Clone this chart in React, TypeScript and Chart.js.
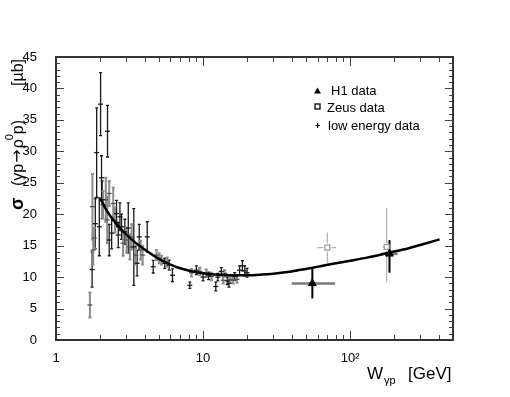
import React, { useEffect, useRef } from 'react';
import { Chart, registerables } from 'chart.js';

Chart.register(...registerables);

// ---- data ----
// low energy data, black error bars
const lowBlackW = [2.01, 1.89, 2.24, 2.04, 1.76, 1.85, 1.97, 2.06, 2.30, 2.58, 2.65, 2.79, 3.10, 3.38, 3.56, 4.17, 4.58, 5.49, 5.88, 6.19, 8.12, 9.0, 9.99, 10.9, 12.2, 12.6, 13.3, 14.6, 15.0, 16.4, 17.7, 18.5, 19.2, 19.9, 2.39, 2.72, 2.94, 3.68];
const lowBlackS = [37.5, 29.8, 33.2, 25.8, 11.2, 18.5, 18.0, 22.3, 15.9, 20.1, 16.7, 18.0, 17.8, 14.8, 12.2, 16.4, 11.65, 12.2, 11.9, 10.3, 8.7, 11.1, 10.0, 10.2, 8.5, 10.0, 10.9, 9.4, 9.0, 10.1, 11.1, 11.8, 11.0, 10.7, 17.0, 19.6, 17.2, 16.4];
const lowBlackE = [5.0, 7.1, 4.1, 3.5, 2.8, 4.0, 4.6, 3.0, 2.5, 2.1, 2.0, 2.0, 4.0, 6.1, 2.0, 2.4, 1.0, 0.8, 0.8, 1.0, 0.5, 0.7, 0.6, 0.6, 0.7, 0.6, 0.6, 0.6, 0.6, 0.6, 0.7, 0.8, 0.8, 0.7, 2.5, 2.2, 2.0, 2.0];
// low energy data, grey error bars
const lowGreyW = [1.70, 1.79, 1.82, 1.77, 2.09, 2.18, 2.23, 2.30, 2.45, 2.52, 2.86, 3.02, 3.18, 3.27, 3.49, 3.76, 3.88, 4.82, 5.03, 5.21, 5.69, 8.34, 9.5, 10.5, 11.4, 13.7, 14.0, 15.3, 16.0, 17.0];
const lowGreyS = [5.56, 14.3, 16.2, 21.2, 21.5, 22.3, 19.1, 23.3, 21.7, 19.1, 15.4, 15.9, 14.8, 16.4, 13.5, 14.3, 13.5, 13.5, 13.0, 12.7, 12.4, 10.7, 10.9, 10.6, 10.1, 9.5, 10.6, 9.65, 9.5, 9.65];
const lowGreyE = [2.0, 2.3, 1.6, 5.2, 2.2, 3.5, 3.7, 2.0, 2.5, 2.0, 2.0, 2.0, 2.0, 2.0, 1.5, 1.5, 1.5, 0.8, 0.8, 0.7, 0.7, 0.6, 0.6, 0.6, 0.6, 0.5, 0.5, 0.5, 0.5, 0.5];
// H1 data
const h1W = [55.3, 185];
const h1S = [9.0, 13.7];
const h1ErrLo = [2.4, 3.0];
const h1ErrHi = [2.55, 2.2];
const h1WLo = [40, 162];
const h1WHi = [79, 210];
// Zeus data
const zeusW = [69.9, 177];
const zeusS = [14.7, 14.8];
const zeusErrLo = [2.4, 5.6];
const zeusErrHi = [2.4, 6.2];
const zeusWLo = [60, 170];
const zeusWHi = [80, 186];
// fitted curve
const curveW = [2.0, 2.2, 2.45, 2.7, 3.0, 3.5, 4.0, 5.0, 6.0, 7.0, 8.5, 10, 12, 15, 20, 25, 30, 40, 50, 65, 80, 100, 130, 185, 250, 320, 405];
const curveS = [22.5, 20.7, 19.1, 17.9, 16.8, 15.4, 14.4, 12.9, 12.0, 11.4, 10.9, 10.6, 10.4, 10.3, 10.3, 10.4, 10.55, 10.9, 11.3, 11.8, 12.2, 12.6, 13.1, 13.9, 14.6, 15.3, 16.0];
// ticks
const xMajorValues = [1, 10, 100];
const xMajorLabels = ['1', '10', '10\u00B2'];
const xMinorValues = [2, 3, 4, 5, 6, 7, 8, 9, 20, 30, 40, 50, 60, 70, 80, 90, 200, 300, 400, 500];

const FONT = '"Liberation Sans", Arial, Helvetica, sans-serif';

const errorBarPlugin = {
  id: 'errorBars',
  beforeDatasetsDraw(chart: any) {
    const ctx = chart.ctx;
    const xs = chart.scales.x;
    const ys = chart.scales.y;
    const area = chart.chartArea;
    ctx.save();
    ctx.beginPath();
    ctx.rect(area.left, area.top, area.right - area.left, area.bottom - area.top);
    ctx.clip();
    chart.data.datasets.forEach((ds: any) => {
      const eb = ds.errBars;
      if (!eb) return;
      ds.data.forEach((p: any, i: number) => {
        const px = xs.getPixelForValue(p.x);
        const py = ys.getPixelForValue(p.y);
        if (eb.xlo) {
          const x1 = xs.getPixelForValue(eb.xlo[i]);
          const x2 = xs.getPixelForValue(eb.xhi[i]);
          ctx.strokeStyle = eb.xColor;
          ctx.lineWidth = eb.xWidth;
          ctx.beginPath();
          if (eb.gap) {
            ctx.moveTo(x1, py); ctx.lineTo(px - eb.gap, py);
            ctx.moveTo(px + eb.gap, py); ctx.lineTo(x2, py);
          } else {
            ctx.moveTo(x1, py); ctx.lineTo(x2, py);
          }
          ctx.stroke();
        }
        const y1 = ys.getPixelForValue(p.y + eb.hi[i]);
        const y2 = ys.getPixelForValue(p.y - eb.lo[i]);
        ctx.strokeStyle = eb.color;
        ctx.lineWidth = eb.width;
        ctx.beginPath();
        if (eb.gap) {
          ctx.moveTo(px, y1); ctx.lineTo(px, py - eb.gap);
          ctx.moveTo(px, py + eb.gap); ctx.lineTo(px, y2);
        } else {
          ctx.moveTo(px, y1); ctx.lineTo(px, y2);
        }
        if (eb.cap) {
          ctx.moveTo(px - eb.cap, y1); ctx.lineTo(px + eb.cap, y1);
          ctx.moveTo(px - eb.cap, y2); ctx.lineTo(px + eb.cap, y2);
        }
        ctx.stroke();
      });
    });
    ctx.restore();
  },
};

const framePlugin = {
  id: 'frameAndText',
  afterDraw(chart: any) {
    const ctx = chart.ctx;
    const xs = chart.scales.x;
    const ys = chart.scales.y;
    const a = chart.chartArea;
    ctx.save();
    // ticks
    ctx.strokeStyle = '#444';
    ctx.lineWidth = 1;
    ctx.beginPath();
    for (let v = 0; v <= 45; v++) {
      const y = Math.round(ys.getPixelForValue(v)) + 0.5;
      const len = v % 5 === 0 ? 8 : 4;
      ctx.moveTo(a.left, y); ctx.lineTo(a.left + len, y);
      ctx.moveTo(a.right, y); ctx.lineTo(a.right - len, y);
    }
    xMajorValues.forEach((v) => {
      const x = Math.round(xs.getPixelForValue(v)) + 0.5;
      ctx.moveTo(x, a.bottom); ctx.lineTo(x, a.bottom - 9);
      ctx.moveTo(x, a.top); ctx.lineTo(x, a.top + 9);
    });
    xMinorValues.forEach((v) => {
      const x = Math.round(xs.getPixelForValue(v)) + 0.5;
      ctx.moveTo(x, a.bottom); ctx.lineTo(x, a.bottom - 5);
      ctx.moveTo(x, a.top); ctx.lineTo(x, a.top + 5);
    });
    ctx.stroke();
    // frame
    ctx.strokeStyle = '#333';
    ctx.lineWidth = 2;
    ctx.strokeRect(a.left, a.top, a.right - a.left, a.bottom - a.top);

    // legend
    ctx.fillStyle = '#000';
    ctx.font = `13px ${FONT}`;
    ctx.textBaseline = 'alphabetic';
    ctx.textAlign = 'left';
    ctx.beginPath();
    ctx.moveTo(317.5, 87.5); ctx.lineTo(321, 93.5); ctx.lineTo(314, 93.5); ctx.closePath();
    ctx.fill();
    ctx.fillText('H1 data', 331, 95);
    ctx.strokeStyle = '#000';
    ctx.lineWidth = 1.3;
    ctx.strokeRect(315, 104, 5, 5);
    ctx.fillText('Zeus data', 327, 112);
    ctx.lineWidth = 1.2;
    ctx.beginPath();
    ctx.moveTo(315.5, 125.5); ctx.lineTo(320, 125.5);
    ctx.moveTo(317.7, 123); ctx.lineTo(317.7, 128);
    ctx.stroke();
    ctx.fillText('low energy data', 328, 130);

    // x axis title
    ctx.font = `17px ${FONT}`;
    ctx.fillText('W', 367, 379);
    ctx.font = `11px ${FONT}`;
    ctx.fillText('\u03B3p', 384, 384);
    ctx.font = `17px ${FONT}`;
    ctx.fillText('[GeV]', 408, 379);

    // y axis title (rotated 90deg counter-clockwise)
    ctx.translate(23, 0);
    ctx.rotate(-Math.PI / 2);
    ctx.font = `bold 18px ${FONT}`;
    ctx.fillText('\u03C3', -210, 0);
    ctx.font = `16px ${FONT}`;
    let pos = -186;
    ctx.fillText('(\u03B3p', pos, 0);
    pos += ctx.measureText('(\u03B3p').width + 1;
    ctx.font = `16px "DejaVu Sans", sans-serif`;
    ctx.fillText('\u2192', pos, -1);
    pos += ctx.measureText('\u2192').width + 1;
    ctx.font = `16px ${FONT}`;
    ctx.fillText('\u03C1', pos, 0);
    pos += ctx.measureText('\u03C1').width;
    ctx.font = `11px ${FONT}`;
    ctx.fillText('0', pos - 1, -10);
    pos += 5;
    ctx.font = `16px ${FONT}`;
    ctx.fillText('p)', pos, 0);
    ctx.fillText('[\u00B5b]', -86, 0);
    ctx.restore();
  },
};

export default function App() {
  const ref = useRef<HTMLCanvasElement | null>(null);
  useEffect(() => {
    if (!ref.current) return;
    const chart = new Chart(ref.current, {
      type: 'scatter',
      data: {
        datasets: [
          {
            type: 'line',
            data: curveW.map((w, i) => ({ x: w, y: curveS[i] })),
            borderColor: '#000',
            borderWidth: 2.5,
            pointRadius: 0,
            cubicInterpolationMode: 'monotone',
            fill: false,
          } as any,
          {
            data: h1W.map((w, i) => ({ x: w, y: h1S[i] })),
            pointStyle: 'triangle',
            pointRadius: 4.5,
            backgroundColor: '#000',
            borderColor: '#000',
            borderWidth: 1,
            errBars: { lo: h1ErrLo, hi: h1ErrHi, xlo: h1WLo, xhi: h1WHi, color: '#000', width: 2, xColor: '#7a7a7a', xWidth: 2.5, cap: 0 },
          } as any,
          {
            data: zeusW.map((w, i) => ({ x: w, y: zeusS[i] })),
            pointStyle: 'rect',
            pointRadius: 3.5,
            backgroundColor: '#fff',
            borderColor: '#999',
            borderWidth: 1.2,
            errBars: { lo: zeusErrLo, hi: zeusErrHi, xlo: zeusWLo, xhi: zeusWHi, color: '#b0b0b0', width: 1.2, xColor: '#b0b0b0', xWidth: 1.2, cap: 0, gap: 4 },
          } as any,
          {
            data: lowBlackW.map((w, i) => ({ x: w, y: lowBlackS[i] })),
            pointStyle: 'line',
            pointRadius: 2.5,
            borderColor: '#1a1a1a',
            borderWidth: 1.3,
            errBars: { lo: lowBlackE, hi: lowBlackE, color: '#1a1a1a', width: 1.3, cap: 1.5 },
          } as any,
          {
            data: lowGreyW.map((w, i) => ({ x: w, y: lowGreyS[i] })),
            pointStyle: 'line',
            pointRadius: 2.5,
            borderColor: '#555',
            borderWidth: 1.3,
            errBars: { lo: lowGreyE, hi: lowGreyE, color: '#8c8c8c', width: 2, cap: 1.5 },
          } as any,
        ],
      },
      options: {
        animation: false,
        responsive: true,
        maintainAspectRatio: false,
        events: [],
        layout: { padding: { top: 57, right: 57, left: 0, bottom: 0 }, autoPadding: false } as any,
        plugins: { legend: { display: false }, tooltip: { enabled: false } },
        scales: {
          x: {
            type: 'logarithmic',
            min: 1,
            max: 500,
            grid: { display: false },
            border: { display: false },
            afterBuildTicks: (scale: any) => {
              scale.ticks = xMajorValues.map((v) => ({ value: v }));
            },
            afterFit: (scale: any) => {
              scale.height = 57;
            },
            ticks: {
              autoSkip: false,
              maxRotation: 0,
              padding: 3,
              color: '#000',
              font: { family: FONT, size: 13 },
              callback: (v: any) => {
                const i = xMajorValues.indexOf(Number(v));
                return i >= 0 ? xMajorLabels[i] : '';
              },
            },
          },
          y: {
            min: 0,
            max: 45,
            grid: { display: false },
            border: { display: false },
            afterFit: (scale: any) => {
              scale.width = 56;
            },
            ticks: {
              stepSize: 5,
              padding: 11,
              color: '#000',
              font: { family: FONT, size: 13 },
            },
          },
        },
      } as any,
      plugins: [errorBarPlugin, framePlugin],
    });
    return () => chart.destroy();
  }, []);
  return (
    <div style={{ position: 'fixed', left: 0, top: 0, width: 510, height: 397, background: '#fff' }}>
      <canvas ref={ref} />
    </div>
  );
}
